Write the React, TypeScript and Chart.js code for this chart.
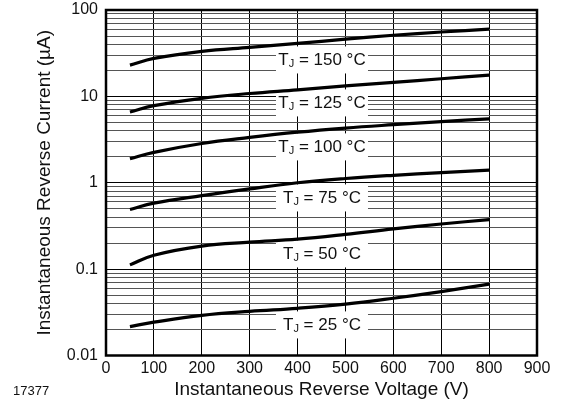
import React, { useEffect, useRef } from "react";
import { Chart, registerables } from "chart.js";

Chart.register(...registerables);

const VOLTAGE = [50, 100, 200, 300, 400, 500, 600, 700, 800];
const I_150 = [23, 27.5, 33.2, 37, 41, 46, 51, 55.6, 60];
const I_125 = [6.6, 7.8, 9.5, 10.8, 11.9, 13.2, 14.5, 16, 17.6];
const I_100 = [1.9, 2.25, 2.85, 3.35, 3.85, 4.3, 4.7, 5.1, 5.5];
const I_75 = [0.49, 0.58, 0.71, 0.85, 1.0, 1.12, 1.22, 1.31, 1.4];
const I_50 = [0.112, 0.145, 0.185, 0.205, 0.222, 0.252, 0.292, 0.333, 0.375];
const I_25 = [0.0216, 0.0243, 0.0292, 0.0325, 0.0352, 0.0393, 0.046, 0.055, 0.067];

const SERIES = [I_150, I_125, I_100, I_75, I_50, I_25];
const TEMPS = ["150", "125", "100", "75", "50", "25"];
const LABEL_Y = [26.4, 8.4, 2.6, 0.667, 0.15, 0.0226];
const LABEL_X = 451;

const Y_TICK_LABELS = ["0.01", "0.1", "1", "10", "100"];
const Y_DECADES = [0.01, 0.1, 1, 10, 100];
const X_TITLE = "Instantaneous Reverse Voltage (V)";
const Y_TITLE = "Instantaneous Reverse Current (\u00b5A)";
const FIG_ID = "17377";

const FONT = "'Liberation Sans', Arial, Helvetica, sans-serif";

function buildYTicks() {
  const out: number[] = [];
  for (let d = 0; d < Y_DECADES.length - 1; d++) {
    for (let k = 1; k <= 9; k++) {
      out.push(Number((Y_DECADES[d] * k).toPrecision(3)));
    }
  }
  out.push(Y_DECADES[Y_DECADES.length - 1]);
  return out;
}

function isMajor(v: number) {
  return Y_DECADES.some((d) => Math.abs(v - d) / d < 1e-6);
}

const BOX_W = 92;
const BOX_H = 27;

const overlayPlugin = {
  id: "overlay",
  beforeDatasetsDraw(chart: any) {
    const { ctx, scales } = chart;
    const cx = scales.x.getPixelForValue(LABEL_X);
    ctx.save();
    ctx.fillStyle = "#fff";
    TEMPS.forEach((t, i) => {
      const cy = scales.y.getPixelForValue(LABEL_Y[i]);
      ctx.fillRect(cx - BOX_W / 2, cy - BOX_H / 2, BOX_W, BOX_H);
    });
    ctx.restore();
  },
  afterDatasetsDraw(chart: any) {
    const { ctx, chartArea, scales } = chart;
    const x = scales.x;
    const y = scales.y;
    ctx.save();
    const cx = x.getPixelForValue(LABEL_X);
    TEMPS.forEach((t, i) => {
      const cy = y.getPixelForValue(LABEL_Y[i]);
      const main = "17px " + FONT;
      const sub = "11px " + FONT;
      const rest = " = " + t + " \u00b0C";
      ctx.font = main;
      const wT = ctx.measureText("T").width;
      const wR = ctx.measureText(rest).width;
      ctx.font = sub;
      const wJ = ctx.measureText("J").width;
      const total = wT + wJ + wR;
      let sx = cx - total / 2;
      ctx.fillStyle = "#111";
      ctx.textBaseline = "middle";
      ctx.textAlign = "left";
      ctx.font = main;
      ctx.fillText("T", sx, cy);
      sx += wT;
      ctx.font = sub;
      ctx.fillText("J", sx, cy + 4);
      sx += wJ;
      ctx.font = main;
      ctx.fillText(rest, sx, cy);
    });
    ctx.strokeStyle = "#000";
    ctx.lineWidth = 2.5;
    ctx.strokeRect(chartArea.left, chartArea.top, chartArea.right - chartArea.left, chartArea.bottom - chartArea.top);
    ctx.font = "13px " + FONT;
    ctx.fillStyle = "#111";
    ctx.textAlign = "left";
    ctx.textBaseline = "middle";
    ctx.fillText(FIG_ID, 13, 391);
    ctx.restore();
  },
};

export default function App() {
  const ref = useRef<HTMLCanvasElement | null>(null);
  useEffect(() => {
    document.body.style.margin = "0";
    const canvas = ref.current!;
    const chart = new Chart(canvas, {
      type: "line",
      data: {
        datasets: SERIES.map((s, i) => ({
          label: TEMPS[i],
          data: VOLTAGE.map((v, j) => ({ x: v, y: s[j] })),
          borderColor: "#000",
          borderWidth: 3.2,
          pointRadius: 0,
          tension: 0.4,
          fill: false,
        })),
      },
      options: {
        responsive: false,
        animation: false,
        events: [],
        layout: { padding: { top: 10, right: 24, left: 0, bottom: 0 } },
        plugins: { legend: { display: false }, tooltip: { enabled: false } },
        scales: {
          x: {
            type: "linear",
            min: 0,
            max: 900,
            border: { display: false },
            afterFit: (s: any) => {
              s.height = 49.5;
              s.paddingLeft = 0;
              s.paddingRight = 0;
            },
            ticks: {
              stepSize: 100,
              padding: 3,
              color: "#111",
              font: { family: FONT, size: 16 },
              maxRotation: 0,
            },
            grid: {
              drawTicks: false,
              color: "#000",
              lineWidth: 1,
            },
            title: {
              display: true,
              text: X_TITLE,
              color: "#111",
              font: { family: FONT, size: 19 },
              padding: { top: 0, bottom: 4 },
            },
          },
          y: {
            type: "logarithmic",
            min: 0.01,
            max: 100,
            border: { display: false },
            afterFit: (s: any) => {
              s.width = 106;
              s.paddingTop = 0;
              s.paddingBottom = 0;
            },
            afterBuildTicks: (s: any) => {
              s.ticks = buildYTicks().map((v) => ({ value: v, major: isMajor(v) }));
            },
            ticks: {
              autoSkip: false,
              padding: 8,
              color: "#111",
              font: { family: FONT, size: 16 },
              callback: (v: any) => {
                const idx = Y_DECADES.findIndex((d) => Math.abs(Number(v) - d) / d < 1e-6);
                return idx >= 0 ? Y_TICK_LABELS[idx] : "";
              },
            },
            grid: {
              drawTicks: false,
              lineWidth: 1,
              color: (c: any) => (c.tick && isMajor(c.tick.value) ? "#000" : "#555"),
            },
            title: {
              display: true,
              text: Y_TITLE,
              color: "#111",
              font: { family: FONT, size: 19 },
              padding: { top: 33, bottom: 0 },
            },
          },
        },
      },
      plugins: [overlayPlugin],
    });
    return () => chart.destroy();
  }, []);
  return (
    <div style={{ width: 561, height: 405, background: "#fff" }}>
      <canvas ref={ref} width={561} height={405} style={{ display: "block" }} />
    </div>
  );
}
